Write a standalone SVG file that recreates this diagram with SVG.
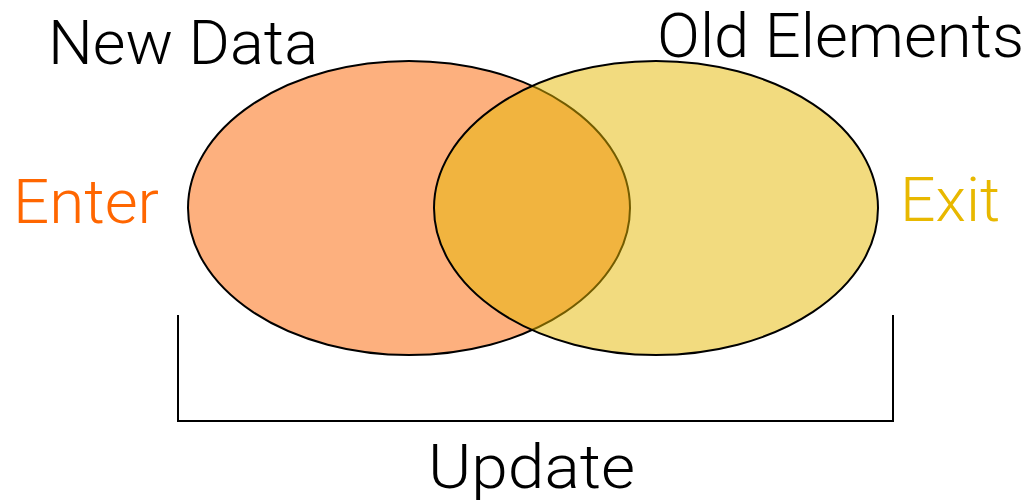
<svg xmlns="http://www.w3.org/2000/svg" width="1030" height="502" viewBox="0 0 1030 502">
  <style>
    .label { font-family: Roboto, "Liberation Sans", Arial, sans-serif; font-weight: 300; font-size: 61px; fill: #000; }
    .set { stroke: #000; stroke-width: 2; }
    .bracket { fill: none; stroke: #000; stroke-width: 2; }
  </style>
  <rect width="1030" height="502" fill="#fff"/>

  <!-- New data set -->
  <g id="new-data">
    <ellipse class="set" cx="409" cy="208" rx="221" ry="147" fill="#FDB07E"/>
    <text class="label" x="48" y="64" textLength="270" lengthAdjust="spacingAndGlyphs">New Data</text>
  </g>

  <!-- Old elements set, translucent so the overlap shows through -->
  <g id="old-elements">
    <ellipse class="set" cx="656" cy="208" rx="222" ry="147" fill="#E5B700" fill-opacity="0.5"/>
    <text class="label" x="657" y="57" textLength="367" lengthAdjust="spacingAndGlyphs">Old Elements</text>
  </g>

  <g id="enter">
    <text class="label" x="13" y="223" textLength="146" lengthAdjust="spacingAndGlyphs" style="fill:#FF6600">Enter</text>
  </g>

  <g id="exit">
    <text class="label" x="900" y="221" textLength="100" lengthAdjust="spacingAndGlyphs" style="fill:#E8B800">Exit</text>
  </g>

  <g id="connectors">
    <path class="bracket" d="M178 315 V421 H893 V315"/>
  </g>

  <g id="update">
    <text class="label" x="428" y="488" font-size="60" textLength="207" lengthAdjust="spacingAndGlyphs">Update</text>
  </g>
</svg>
